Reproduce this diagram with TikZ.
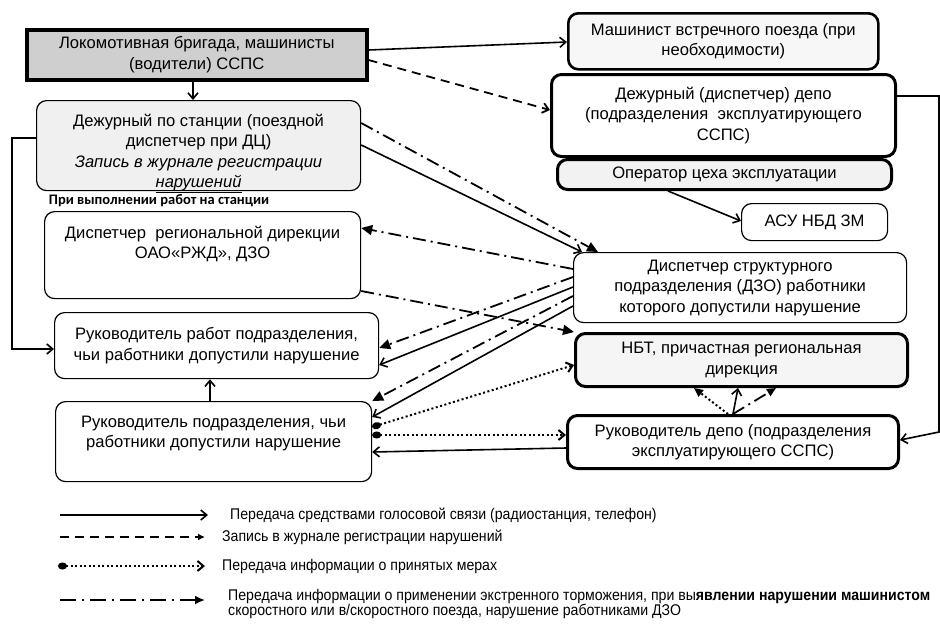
\documentclass[tikz,border=0pt]{standalone}
\usepackage{fontspec}
\setmainfont{Liberation Sans}
\newfontfamily\notefont{Carlito}
\newfontfamily\keyfont[FakeStretch=0.91]{Liberation Sans}
\usetikzlibrary{arrows.meta}

\tikzset{
    thinbox/.style={draw, line width=1.2pt, rounded corners=10pt, align=center, inner sep=0pt,
        anchor=north west, font=\fontsize{16.6}{20.5}\selectfont},
    thickbox/.style={thinbox, line width=3pt},
    voice/.style={line width=1.6pt, -{Straight Barb[length=6pt,width=10pt]}},
    journal/.style={line width=1.8pt, dash pattern=on 9pt off 6pt, -{Straight Barb[length=6pt,width=10pt]}},
    measures/.style={line width=2pt, dash pattern=on 2pt off 2.5pt,
        {Ellipse[length=9pt,width=7pt]}-{Straight Barb[length=6pt,width=10pt]}},
    braking/.style={line width=1.8pt, dash pattern=on 13pt off 5pt on 2pt off 5pt,
        -{Triangle[length=11pt,width=10pt]}},
    keytext/.style={anchor=west, inner sep=0pt, font=\keyfont\fontsize{15.5}{15}\selectfont},
}

\begin{document}
\begin{tikzpicture}[x=1pt, y=-1pt]
    \useasboundingbox (0,0) rectangle (940,625);

    % left column
    \node[thickbox, sharp corners, line width=3.5pt, fill=gray!38, minimum width=340, minimum height=50] (crew) at (25,28)
        {Локомотивная бригада, машинисты\\(водители) ССПС};
    \node[thinbox, fill=gray!12, minimum width=324, minimum height=90, text height=84pt, text depth=0pt] (station) at (36,100)
        {Дежурный по станции (поездной\\диспетчер при ДЦ)\\\textit{Запись в журнале регистрации}\\\underline{\textit{нарушений}}};
    \node[anchor=center, inner sep=0pt, font=\notefont\bfseries\fontsize{14.5}{15}\selectfont] (atstation) at (159,201)
        {При выполнении работ на станции};
    \node[thinbox, minimum width=316, minimum height=87, text depth=26pt] (region) at (44,211)
        {Диспетчер~ региональной дирекции\\ОАО«РЖД», ДЗО};
    \node[thinbox, minimum width=324, minimum height=66] (works) at (54,312)
        {Руководитель работ подразделения,\\чьи работники допустили нарушение};
    \node[thinbox, minimum width=316, minimum height=80, text depth=20pt] (unit) at (55,401)
        {Руководитель подразделения, чьи\\работники допустили нарушение};

    % right column
    \node[thickbox, line width=2.6pt, fill=gray!6, minimum width=310, minimum height=56] (oncoming) at (567,12)
        {Машинист встречного поезда (при\\необходимости)};
    \node[thickbox, minimum width=344, minimum height=82] (depot) at (550,73)
        {Дежурный (диспетчер) депо\\(подразделения~ эксплуатирующего\\ССПС)};
    \node[thickbox, fill=gray!10, minimum width=334, minimum height=30] (operator) at (556,158)
        {Оператор цеха эксплуатации};
    \node[thinbox, minimum width=146, minimum height=37] (asu) at (741,203)
        {АСУ НБД ЗМ};
    \node[thinbox, minimum width=333, minimum height=70] (dzo) at (573,252)
        {Диспетчер структурного\\подразделения (ДЗО) работники\\которого допустили нарушение};
    \node[thickbox, fill=gray!8, minimum width=332, minimum height=53] (nbt) at (574,332)
        {НБТ, причастная региональная\\дирекция};
    \node[thickbox, minimum width=331, minimum height=53] (chief) at (566,414)
        {Руководитель депо (подразделения\\эксплуатирующего ССПС)};

    % connectors
    \draw[voice] (crew.east |- 0,50) -- (oncoming.west |- 0,42);
    \draw[journal] (crew.east |- 0,60) -- (depot.west |- 0,110);
    \draw[voice] (crew.south -| 193,0) -- (station.north -| 193,0);
    \draw[voice] (station.west |- 0,138) -- ++(-24,0) |- (works.west |- 0,349);
    \draw[braking] (station.east |- 0,123) -- (dzo.north -| 598,0);
    \draw[voice] (station.east |- 0,145) -- (dzo.north -| 582,0);
    \draw[braking] (dzo.west |- 0,269) -- (region.east |- 0,228);
    \draw[braking] (region.east |- 0,291) -- (nbt.north west);
    \draw[braking] (dzo.west |- 0,277) -- (works.east |- 0,348);
    \draw[voice] (dzo.west |- 0,287) -- (works.east |- 0,365);
    \draw[braking] (dzo.west |- 0,296) -- (unit.north east);
    \draw[voice] (dzo.west |- 0,306) -- (unit.east |- 0,417);
    \draw[measures] (unit.east |- 0,427) -- (nbt.west |- 0,365);
    \draw[measures] (unit.east |- 0,435) -- (chief.west |- 0,435);
    \draw[voice] (chief.west |- 0,448) -- (unit.east |- 0,452);
    \draw[voice] (unit.north -| 210,0) -- (works.south -| 210,0);
    \draw[voice] (depot.east |- 0,96) -- ++(42,0) -- ++(0,336) -- (chief.east |- 0,440);
    \draw[voice] (operator.south -| 668,0) -- (asu.west |- 0,221);
    \draw[measures, arrows={-Triangle[length=9pt,width=8pt]}] (chief.north -| 728,0) -- (nbt.south -| 694,0);
    \draw[voice] (chief.north -| 733,0) -- (nbt.south -| 738,0);
    \draw[braking, arrows={-Triangle[length=9pt,width=8pt]}] (chief.north -| 733,0) -- (nbt.south -| 776,0);

    % legend
    \node[keytext] (key1) at (230,515) {Передача средствами голосовой связи (радиостанция, телефон)};
    \node[keytext] (key2) at (222,537) {Запись в журнале регистрации нарушений};
    \node[keytext] (key3) at (222,566) {Передача информации о принятых мерах};
    \node[keytext, align=left] (key4) at (228,604)
        {Передача информации о применении экстренного торможения, при вы\textbf{явлении нарушении машинистом}\\скоростного или в/скоростного поезда, нарушение работниками ДЗО};
    \draw[voice] ([xshift=-170pt]key1.west) -- ([xshift=-22pt]key1.west);
    \draw[journal, arrows={-Latex[length=7pt,width=7pt]}] ([xshift=-162pt]key2.west) -- ([xshift=-17pt]key2.west);
    \draw[measures] ([xshift=-164pt]key3.west) -- ([xshift=-17pt]key3.west);
    \draw[braking, dash pattern=on 16pt off 6pt on 2pt off 6pt, arrows={-Latex[length=10pt,width=9pt]}]
        ([xshift=-168pt,yshift=4pt]key4.west) -- ([xshift=-23pt,yshift=4pt]key4.west);
\end{tikzpicture}
\end{document}
